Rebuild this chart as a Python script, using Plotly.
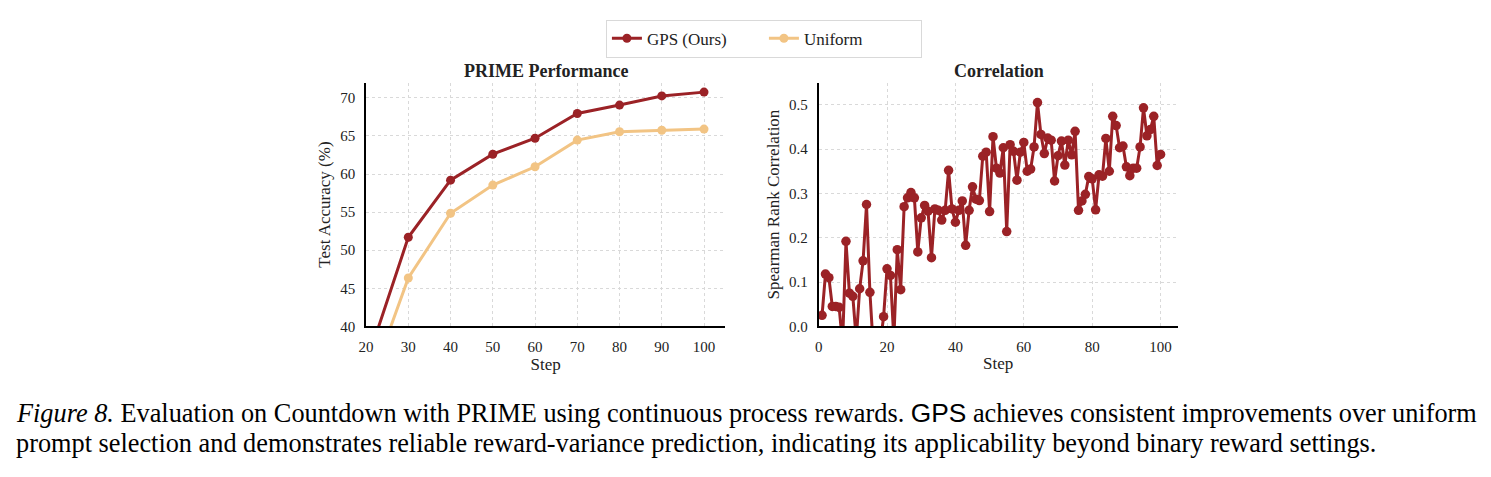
import plotly.graph_objects as go
from plotly.subplots import make_subplots

# ---------------- data ----------------
perf_steps = [20, 30, 40, 50, 60, 70, 80, 90, 100]
gps_acc = [35.0, 51.7, 59.2, 62.6, 64.7, 67.95, 69.05, 70.25, 70.75]
uniform_acc = [31.0, 46.35, 54.85, 58.55, 60.95, 64.45, 65.55, 65.75, 65.9]

corr_steps = list(range(1, 101))
corr_values = [
    0.025, 0.118, 0.110, 0.045, 0.045, 0.043, -0.040, 0.192, 0.075, 0.068,
    -0.030, 0.085, 0.148, 0.275, 0.077, -0.050, -0.040, -0.040, 0.022, 0.130,
    0.115, -0.030, 0.173, 0.083, 0.270, 0.290, 0.302, 0.290, 0.168, 0.245,
    0.273, 0.260, 0.155, 0.265, 0.262, 0.240, 0.262, 0.352, 0.265, 0.235,
    0.262, 0.283, 0.183, 0.262, 0.315, 0.287, 0.284, 0.384, 0.393, 0.259,
    0.428, 0.357, 0.346, 0.403, 0.214, 0.410, 0.395, 0.330, 0.393, 0.415,
    0.350, 0.355, 0.405, 0.505, 0.433, 0.390, 0.425, 0.420, 0.328, 0.385,
    0.418, 0.364, 0.420, 0.387, 0.440, 0.262, 0.283, 0.298, 0.338, 0.333,
    0.263, 0.342, 0.339, 0.424, 0.350, 0.474, 0.453, 0.403, 0.407, 0.360,
    0.340, 0.357, 0.357, 0.405, 0.493, 0.430, 0.444, 0.474, 0.363, 0.388,
]

left_title = "PRIME Performance"
right_title = "Correlation"
legend_names = ["GPS (Ours)", "Uniform"]

# ---------------- style ----------------
RED = "#9b2226"
ORANGE = "#f2c484"
SERIF = "Liberation Serif, Times New Roman, serif"
W, H = 1491, 477

fig = make_subplots(rows=1, cols=2)

fig.add_trace(go.Scatter(x=perf_steps, y=gps_acc, mode="lines+markers", name=legend_names[0],
                         line=dict(color=RED, width=3), marker=dict(color=RED, size=9)),
              row=1, col=1)
fig.add_trace(go.Scatter(x=perf_steps, y=uniform_acc, mode="lines+markers", name=legend_names[1],
                         line=dict(color=ORANGE, width=3), marker=dict(color=ORANGE, size=9)),
              row=1, col=1)
fig.add_trace(go.Scatter(x=corr_steps, y=corr_values, mode="lines+markers", showlegend=False,
                         line=dict(color=RED, width=3), marker=dict(color=RED, size=9.5)),
              row=1, col=2)

def px_x(p):
    return p / W

def px_y(p):
    return 1 - p / H

axis_common = dict(showline=True, linecolor="black", linewidth=1.8, mirror=False,
                   showgrid=True, gridcolor="#d9d9d9", griddash="dot", gridwidth=1,
                   ticks="", zeroline=False, ticklabelstandoff=6,
                   tickfont=dict(family=SERIF, size=15, color="#222"),
                   title_font=dict(family=SERIF, size=17, color="#222"))

fig.update_xaxes(axis_common)
fig.update_yaxes(axis_common)

fig.update_xaxes(domain=[px_x(360), px_x(721)], range=[20, 105], dtick=10, tick0=20,
                 title_text="Step", title_standoff=3, row=1, col=1)
fig.update_yaxes(domain=[px_y(332), px_y(84)], range=[40, 72], dtick=5, tick0=40,
                 title_text="Test Accuracy (%)", title_standoff=5, row=1, col=1)
fig.update_xaxes(domain=[px_x(815), px_x(1176)], range=[0, 105], dtick=20, tick0=0,
                 title_text="Step", title_standoff=3, row=1, col=2)
fig.update_yaxes(domain=[px_y(332), px_y(84)], range=[0, 0.55], dtick=0.1, tick0=0,
                 tickformat=".1f", title_text="Spearman Rank Correlation", title_standoff=5,
                 row=1, col=2)

annotations = [
    dict(text="<b>" + left_title + "</b>", x=px_x(541), y=px_y(72), xref="paper", yref="paper",
         xanchor="center", yanchor="middle",
         showarrow=False, font=dict(family=SERIF, size=18, color="#222")),
    dict(text="<b>" + right_title + "</b>", x=px_x(996), y=px_y(72), xref="paper", yref="paper",
         xanchor="center", yanchor="middle",
         showarrow=False, font=dict(family=SERIF, size=18, color="#222")),
    dict(text="<i>Figure 8.</i> Evaluation on Countdown with PRIME using continuous process rewards. "
              "<span style=\"font-family:Liberation Sans, Arial, sans-serif\">GPS</span> "
              "achieves consistent improvements over uniform",
         x=px_x(6), y=px_y(420), xref="paper", yref="paper", xanchor="left", yanchor="middle",
         showarrow=False, font=dict(family=SERIF, size=26.3, color="black")),
    dict(text="prompt selection and demonstrates reliable reward-variance prediction, "
              "indicating its applicability beyond binary reward settings.",
         x=px_x(6), y=px_y(451), xref="paper", yref="paper", xanchor="left", yanchor="middle",
         showarrow=False, font=dict(family=SERIF, size=26.3, color="black")),
]

fig.update_layout(
    width=W, height=H,
    margin=dict(l=0, r=0, t=0, b=0),
    paper_bgcolor="white", plot_bgcolor="white",
    annotations=annotations,
    legend=dict(orientation="h", x=px_x(760), y=px_y(20), xanchor="center", yanchor="top",
                bordercolor="#d9d9d9", borderwidth=1, bgcolor="white",
                font=dict(family=SERIF, size=17, color="#222"),
                entrywidth=112, entrywidthmode="pixels", tracegroupgap=0),
    font=dict(family=SERIF),
)

fig.write_html("out.html")
